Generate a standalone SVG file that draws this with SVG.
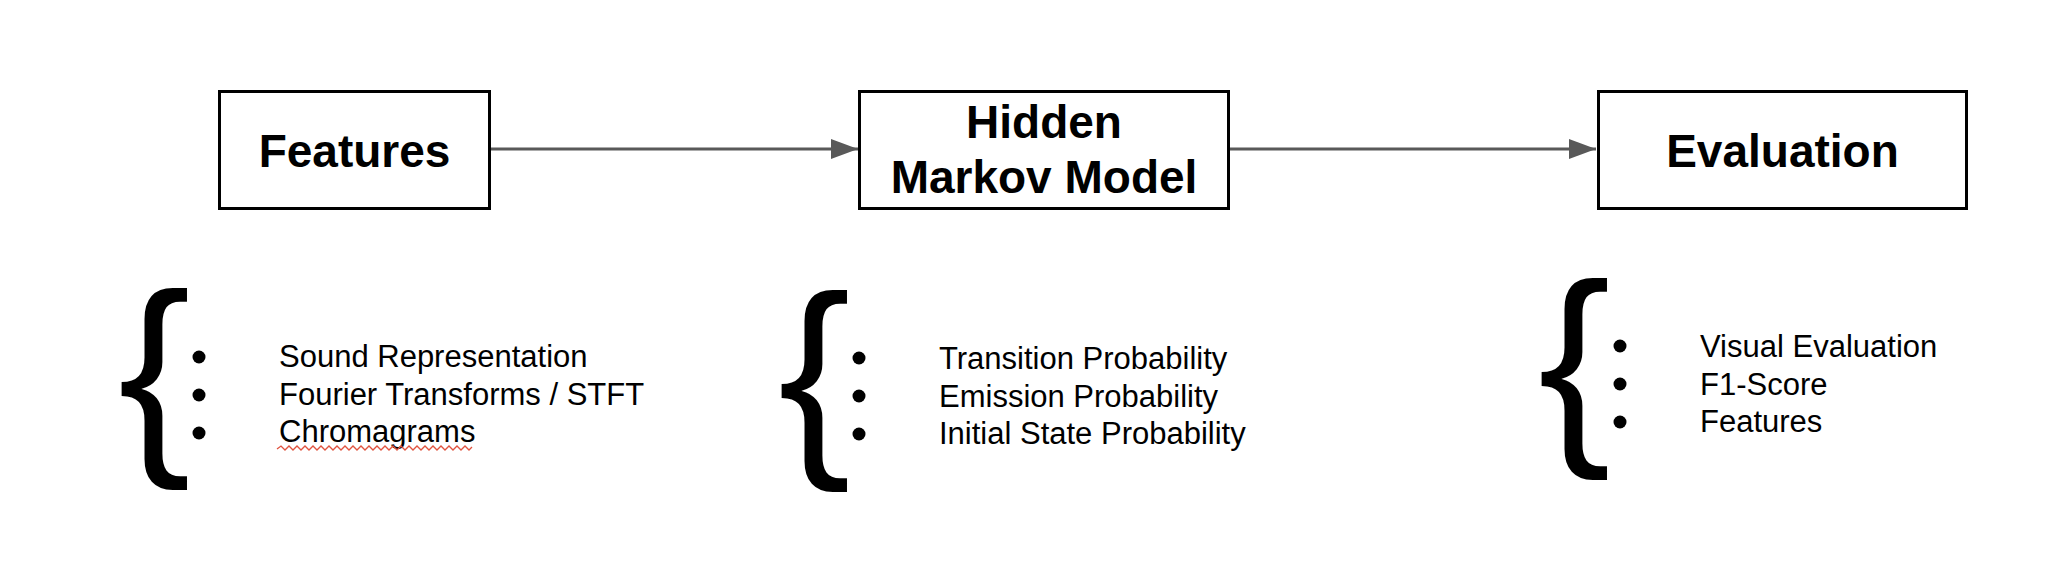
<svg xmlns="http://www.w3.org/2000/svg" width="2050" height="572" viewBox="0 0 2050 572">
  <style>
    .box { fill: #ffffff; stroke: #000000; stroke-width: 3; }
    .title { font-family: "Liberation Sans", Arial, sans-serif; font-weight: bold; font-size: 46px; fill: #000000; text-anchor: middle; }
    .item { font-family: "Liberation Sans", Arial, sans-serif; font-size: 31px; fill: #000000; }
    .brace { font-family: "Liberation Sans", Arial, sans-serif; font-size: 218px; fill: #000000; }
    .bullet { fill: #000000; }
    .edge { stroke: #595959; stroke-width: 3; fill: none; }
    .squiggle { stroke: #e0533f; stroke-width: 1.3; fill: none; }
  </style>
  <defs>
    <marker id="arrow" markerUnits="userSpaceOnUse" markerWidth="28" markerHeight="20" refX="27" refY="10" orient="auto">
      <path d="M0,0 L27,10 L0,20 Z" fill="#595959"/>
    </marker>
  </defs>
  <rect width="2050" height="572" fill="#ffffff"/>

  <g id="connectors">
    <line class="edge" x1="491" y1="149" x2="858" y2="149" marker-end="url(#arrow)"/>
    <line class="edge" x1="1229" y1="149" x2="1596" y2="149" marker-end="url(#arrow)"/>
  </g>

  <g id="node-features">
    <rect class="box" x="219.5" y="91.5" width="270" height="117"/>
    <text class="title" x="354.5" y="167">Features</text>
  </g>

  <g id="node-hmm">
    <rect class="box" x="859.5" y="91.5" width="369" height="117"/>
    <text class="title" x="1044" y="138">Hidden</text>
    <text class="title" x="1044" y="193">Markov Model</text>
  </g>

  <g id="node-evaluation">
    <rect class="box" x="1598.5" y="91.5" width="368" height="117"/>
    <text class="title" x="1782.5" y="167">Evaluation</text>
  </g>

  <g id="list-features">
    <text class="brace" x="118" y="445">{</text>
    <circle class="bullet" cx="199" cy="357" r="6.5"/>
    <circle class="bullet" cx="199" cy="395" r="6.5"/>
    <circle class="bullet" cx="199" cy="433" r="6.5"/>
    <text class="item" x="279" y="367">Sound Representation</text>
    <text class="item" x="279" y="404.5">Fourier Transforms / STFT</text>
    <text class="item" x="279" y="442">Chromagrams</text>
    <polyline class="squiggle" points="277,449 281,446 285,450 289,446 293,450 297,446 301,450 305,446 309,450 313,446 317,450 321,446 325,450 329,446 333,450 337,446 341,450 345,446 349,450 353,446 357,450 361,446 365,450 369,446 373,450 377,446 381,450 385,446 389,450 393,446 397,450 401,446 405,450 409,446 413,450 417,446 421,450 425,446 429,450 433,446 437,450 441,446 445,450 449,446 453,450 457,446 461,450 465,446 469,450 472,447"/>
  </g>

  <g id="list-hmm">
    <text class="brace" x="778" y="447">{</text>
    <circle class="bullet" cx="859" cy="358" r="6.5"/>
    <circle class="bullet" cx="859" cy="396" r="6.5"/>
    <circle class="bullet" cx="859" cy="434" r="6.5"/>
    <text class="item" x="939" y="369">Transition Probability</text>
    <text class="item" x="939" y="406.5">Emission Probability</text>
    <text class="item" x="939" y="444">Initial State Probability</text>
  </g>

  <g id="list-evaluation">
    <text class="brace" x="1538" y="435">{</text>
    <circle class="bullet" cx="1620" cy="346" r="6.5"/>
    <circle class="bullet" cx="1620" cy="384" r="6.5"/>
    <circle class="bullet" cx="1620" cy="422" r="6.5"/>
    <text class="item" x="1700" y="357">Visual Evaluation</text>
    <text class="item" x="1700" y="394.5">F1-Score</text>
    <text class="item" x="1700" y="432">Features</text>
  </g>
</svg>
